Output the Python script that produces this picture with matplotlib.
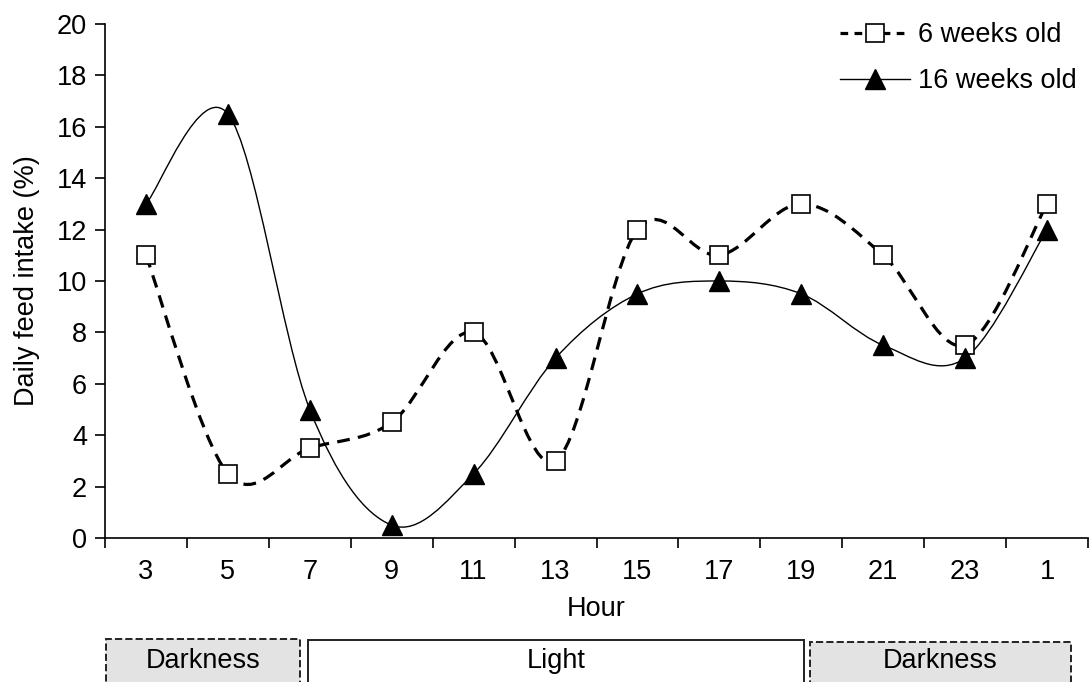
import numpy as np
import matplotlib
matplotlib.use("Agg")
import matplotlib.pyplot as plt
from matplotlib.path import Path
from matplotlib.patches import PathPatch, Rectangle
from matplotlib.lines import Line2D

plt.rcParams['font.family'] = ['Liberation Sans', 'DejaVu Sans']

hours = ['3', '5', '7', '9', '11', '13', '15', '17', '19', '21', '23', '1']
weeks6 = [11, 2.5, 3.5, 4.5, 8, 3, 12, 11, 13, 11, 7.5, 13]
weeks16 = [13, 16.5, 5, 0.5, 2.5, 7, 9.5, 10, 9.5, 7.5, 7, 12]
series_labels = ['6 weeks old', '16 weeks old']
periods = ['Darkness', 'Light', 'Darkness']

FS = 19.5

fig = plt.figure(figsize=(10.89, 6.82), dpi=100)
ax = fig.add_axes([105/1089, 1-538/682, (1088-105)/1089, (538-24)/682])

x = np.arange(len(hours), dtype=float)


def smooth_path(xs, ys):
    pts = np.column_stack([xs, ys])
    n = len(pts)
    verts = [pts[0]]
    codes = [Path.MOVETO]
    for i in range(n - 1):
        p0 = pts[i - 1] if i > 0 else pts[i]
        p1 = pts[i]
        p2 = pts[i + 1]
        p3 = pts[i + 2] if i + 2 < n else pts[i + 1]
        c1 = p1 + (p2 - p0) / 6.0
        c2 = p2 - (p3 - p1) / 6.0
        verts += [c1, c2, p2]
        codes += [Path.CURVE4] * 3
    return Path(np.array(verts), codes)


ax.add_patch(PathPatch(smooth_path(x, weeks6), fill=False, edgecolor='black',
                       lw=2.3, linestyle=(0, (4, 2.6)), capstyle='butt', zorder=2))
ax.add_patch(PathPatch(smooth_path(x, weeks16), fill=False, edgecolor='black',
                       lw=1.0, zorder=2))
ax.plot(x, weeks6, linestyle='none', marker='s', markersize=13,
        markerfacecolor='white', markeredgecolor='black', markeredgewidth=1.2, zorder=3)
ax.plot(x, weeks16, linestyle='none', marker='^', markersize=14,
        markerfacecolor='black', markeredgecolor='black', zorder=3)

ax.set_xlim(-0.5, len(hours) - 0.5)
ax.set_ylim(0, 20)
ax.set_yticks(np.arange(0, 21, 2))
ax.set_xticks(x)
ax.set_xticklabels(hours)
ax.set_xticks(np.arange(-0.5, len(hours), 1.0), minor=True)
ax.tick_params(axis='x', which='major', length=0, pad=15, labelsize=FS)
ax.tick_params(axis='x', which='minor', length=7, width=1.2, direction='out')
ax.tick_params(axis='y', length=7, width=1.2, direction='out', labelsize=FS, pad=6)
for s in ['top', 'right']:
    ax.spines[s].set_visible(False)
for s in ['left', 'bottom']:
    ax.spines[s].set_linewidth(1.2)

ax.set_ylabel('Daily feed intake (%)', fontsize=FS, labelpad=12)
ax.set_xlabel('Hour', fontsize=FS, labelpad=8)

handles = [
    Line2D([], [], color='black', lw=2.3, linestyle=(0, (2.4, 2.0)), marker='s',
           markersize=13, markerfacecolor='white', markeredgecolor='black', markeredgewidth=1.2),
    Line2D([], [], color='black', lw=1.0, marker='^', markersize=14,
           markerfacecolor='black'),
]
leg = ax.legend(handles, series_labels, loc='upper right', bbox_to_anchor=(1.0, 1.025),
                frameon=False, fontsize=FS, handlelength=2.6, handletextpad=0.3,
                labelspacing=0.75, borderaxespad=0.0)

# Period boxes below the axis (figure pixel coordinates)
W, H = 1089.0, 682.0
boxes = [(106, 300, 639, '#e3e3e3', '--'),
         (308, 804, 640, 'white', '-'),
         (810, 1071, 642, '#e3e3e3', '--')]
for (x0, x1, ytop, fc, ls), label in zip(boxes, periods):
    rect = Rectangle((x0/W, 1 - 700/H), (x1-x0)/W, (700-ytop)/H, transform=fig.transFigure,
                     facecolor=fc, edgecolor='#222222', lw=1.4, linestyle=ls,
                     clip_on=False)
    fig.add_artist(rect)
    fig.text((x0+x1)/2/W, 1 - 661/H, label, ha='center', va='center', fontsize=FS)

fig.savefig('out.png', dpi=100)
